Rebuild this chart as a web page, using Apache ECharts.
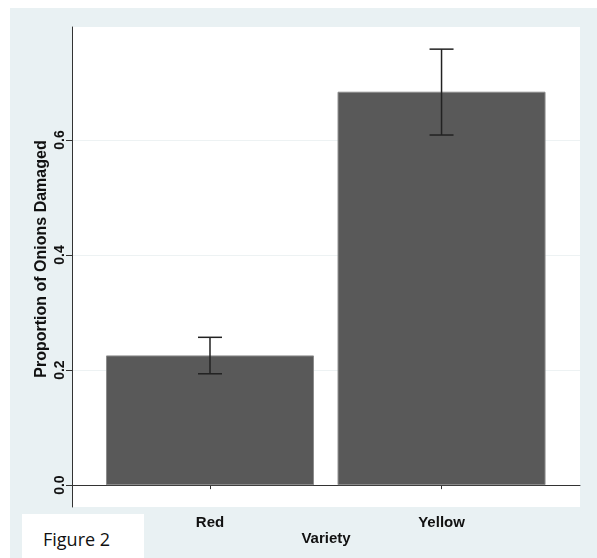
<!DOCTYPE html>
<html>
<head>
<meta charset="utf-8">
<script src="https://cdn.jsdelivr.net/npm/echarts@6/dist/echarts.min.js"></script>
<style>
html,body{margin:0;padding:0;background:#fff;width:597px;height:558px;overflow:hidden;}
#bg{position:absolute;left:10px;top:8px;width:587px;height:550px;background:#e9f1f3;}
#fig{position:absolute;left:22px;top:514px;width:122px;height:44px;background:#fff;}
#figtxt{position:absolute;left:43px;top:527px;font-family:"Open Sans","Liberation Sans",sans-serif;font-size:18px;color:#111;}
#chart{position:absolute;left:0;top:0;width:597px;height:558px;}
</style>
</head>
<body>
<div id="bg"></div>
<div id="fig"></div>
<div id="figtxt">Figure 2</div>
<div id="chart"></div>
<script>
var categories = ['Red', 'Yellow'];
var proportions = [0.2255, 0.684];
var lowerCI = [0.1936, 0.6087];
var upperCI = [0.257, 0.758];
var yTicks = [0, 0.2, 0.4, 0.6];

var positions = categories.map(function (c, i) { return i + 1; });
var barData = positions.map(function (p, i) { return [p, proportions[i]]; });
var errData = positions.map(function (p, i) { return [p, lowerCI[i], upperCI[i]]; });

var chart = echarts.init(document.getElementById('chart'), null, {renderer: 'canvas'});
chart.setOption({
  backgroundColor: 'transparent',
  animation: false,
  grid: {left: 72, top: 27, right: 17, bottom: 51, show: true, backgroundColor: '#fff', borderWidth: 0},
  xAxis: {
    type: 'value', min: 0.404, max: 2.598,
    name: 'Variety', nameLocation: 'middle', nameGap: 24, nameMoveOverlap: false,
    nameTextStyle: {fontFamily: 'Liberation Sans', fontWeight: 'bold', fontSize: 15, color: '#111'},
    axisLine: {show: true, lineStyle: {color: '#333', width: 1}},
    axisTick: {show: true, customValues: positions, length: 4, lineStyle: {color: '#333'}},
    axisLabel: {show: true, customValues: positions, margin: 8,
      fontFamily: 'Liberation Sans', fontWeight: 'bold', fontSize: 15, color: '#111',
      formatter: function (v) { return categories[Math.round(v) - 1] || ''; }},
    splitLine: {show: false}
  },
  yAxis: {
    type: 'value', min: -0.038, max: 0.7965,
    name: 'Proportion of Onions Damaged', nameLocation: 'middle', nameGap: 22, nameMoveOverlap: false,
    nameTextStyle: {fontFamily: 'Liberation Sans', fontWeight: 'bold', fontSize: 16, color: '#111', padding: [0, 0, 0, 16]},
    axisLine: {show: true, lineStyle: {color: '#333', width: 1}},
    axisTick: {show: true, customValues: yTicks, length: 6, lineStyle: {color: '#333'}},
    axisLabel: {show: true, customValues: yTicks, rotate: 90, margin: 5,
      fontFamily: 'Liberation Sans', fontWeight: 'bold', fontSize: 14, color: '#111',
      formatter: function (v) { return v.toFixed(1); }},
    splitLine: {show: true, customValues: yTicks, lineStyle: {color: '#edf2f3', width: 1}}
  },
  series: [
    {
      type: 'bar', data: barData, barWidth: 208,
      itemStyle: {color: '#595959', borderColor: '#8c8c8c', borderWidth: 1},
      z: 2
    },
    {
      type: 'custom', data: errData, z: 3,
      renderItem: function (params, api) {
        var x = api.value(0);
        var lo = api.coord([x, api.value(1)]);
        var hi = api.coord([x, api.value(2)]);
        var hw = 12;
        var style = {stroke: '#222', lineWidth: 1.5};
        return {type: 'group', children: [
          {type: 'line', shape: {x1: lo[0], y1: lo[1], x2: hi[0], y2: hi[1]}, style: style},
          {type: 'line', shape: {x1: lo[0] - hw, y1: lo[1], x2: lo[0] + hw, y2: lo[1]}, style: style},
          {type: 'line', shape: {x1: hi[0] - hw, y1: hi[1], x2: hi[0] + hw, y2: hi[1]}, style: style}
        ]};
      }
    }
  ]
});
</script>
</body>
</html>
